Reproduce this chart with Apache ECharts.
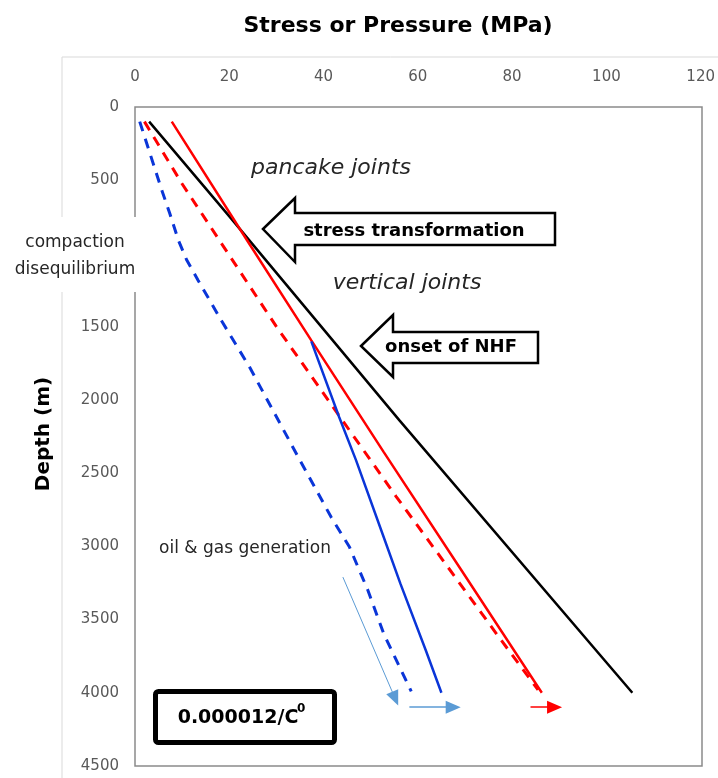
<!DOCTYPE html>
<html><head><meta charset="utf-8">
<script src="https://cdn.jsdelivr.net/npm/echarts@6/dist/echarts.min.js"></script>
<style>html,body{margin:0;padding:0;background:#fff}#c{width:718px;height:778px}</style>
</head><body><div id="c"></div>
<script>
// ---- data (stress/pressure in MPa, depth in m) ----
const xTickValues = [0, 20, 40, 60, 80, 100, 120];
const yTickValues = [0, 500, 1000, 1500, 2000, 2500, 3000, 3500, 4000, 4500];
const blackSolid = [[3,100],[20.1,750],[56.1,2140],[105.5,4000]];
const redSolid = [[7.8,100],[24,922],[37.4,1594],[52.7,2353],[69,3151],[86.3,4000]];
const redDashed = [[2,100],[9.9,520],[30,1500],[55.4,2660],[65.2,3090],[77.2,3620],[85.5,3980]];
const blueDashed = [[1,100],[5.6,560],[7.4,729],[9.2,910],[11,1047],[13.4,1184],[18.3,1457],[24.3,1776],[35,2413],[41.6,2800],[45.5,3005],[49.4,3300],[52.8,3600],[58.6,3990]];
const blueSolid = [[37.4,1600],[43.3,2117],[46.9,2413],[52.5,2914],[56.3,3255],[61.7,3711],[65,4000]];
const oilGasArrow = [[44.1,3210],[55.2,4040]];
const blueArrow = [[58.2,4098],[67.5,4098]];
const redArrow = [[83.9,4098],[89,4098]];

const FONT = "'DejaVu Sans', sans-serif";
const chart = echarts.init(document.getElementById('c'), null, {renderer: 'canvas'});

function arrowLine(pts, color, width) {
  return [{coord: pts[0], lineStyle: {color: color, width: width, type: 'solid'}}, {coord: pts[1]}];
}

const G = {left: 135, right: 16, top: 107, bottom: 12};
const option = {
  animation: false,
  backgroundColor: '#fff',
  grid: {left: G.left, right: G.right, top: G.top, bottom: G.bottom, show: false},
  xAxis: {
    type: 'value', position: 'top', min: xTickValues[0], max: xTickValues[xTickValues.length-1], interval: 20,
    axisLine: {show: false}, axisTick: {show: false}, splitLine: {show: false},
    axisLabel: {fontSize: 15, color: '#595959', margin: 22, fontFamily: FONT}
  },
  yAxis: {
    type: 'value', inverse: true, min: yTickValues[0], max: yTickValues[yTickValues.length-1], interval: 500,
    axisLine: {show: false}, axisTick: {show: false}, splitLine: {show: false},
    axisLabel: {fontSize: 15, color: '#595959', margin: 16, fontFamily: FONT, formatter: v => String(v)}
  },
  series: [
    {type: 'line', data: blackSolid, showSymbol: false, lineStyle: {color: '#000', width: 2.5}, z: 3},
    {type: 'line', data: redSolid, showSymbol: false, lineStyle: {color: '#ff0000', width: 2.5}, z: 4},
    {type: 'line', data: redDashed, showSymbol: false, lineStyle: {color: '#ff0000', width: 3, type: [10, 8]}, z: 3},
    {type: 'line', data: blueDashed, showSymbol: false, lineStyle: {color: '#0a35d8', width: 3, type: [10, 8]}, z: 3},
    {type: 'line', data: blueSolid, showSymbol: false, lineStyle: {color: '#0a35d8', width: 2.5}, z: 5,
      markLine: {
        silent: true, symbol: ['none', 'triangle'], symbolSize: [13, 15], label: {show: false},
        animation: false,
        data: [
          arrowLine(oilGasArrow, '#5b9bd5', 1),
          arrowLine(blueArrow, '#5b9bd5', 1.5),
          arrowLine(redArrow, '#ff0000', 1.5)
        ],
        itemStyle: {color: '#5b9bd5'}
      }
    }
  ],
  graphic: [
    {type: 'rect', shape: {x: 62, y: 57, width: 700, height: 760}, style: {fill: 'none', stroke: '#d9d9d9', lineWidth: 1}, z: -1, silent: true},
    {type: 'rect', shape: {x: 135, y: 107, width: 567, height: 659}, style: {fill: 'none', stroke: '#8a8a8a', lineWidth: 1.5}, z: 1, silent: true},
    {type: 'text', x: 398, y: 26, style: {text: 'Stress or Pressure (MPa)', font: "bold 22px " + FONT, fill: '#000', textAlign: 'center', textVerticalAlign: 'middle'}},
    {type: 'text', x: 44, y: 434, rotation: Math.PI/2, style: {text: 'Depth (m)', font: "bold 20px " + FONT, fill: '#000', textAlign: 'center', textVerticalAlign: 'middle'}},
    // compaction text box (covers axis)
    {type: 'rect', shape: {x: 6, y: 217, width: 140, height: 75}, style: {fill: '#fff', stroke: 'none'}, z: 100},
    {type: 'text', x: 75, y: 243, z: 101, style: {text: 'compaction', font: "17px " + FONT, fill: '#262626', textAlign: 'center', textVerticalAlign: 'middle'}},
    {type: 'text', x: 75, y: 270, z: 101, style: {text: 'disequilibrium', font: "17px " + FONT, fill: '#262626', textAlign: 'center', textVerticalAlign: 'middle'}},
    {type: 'text', x: 331, y: 168, z: 101, style: {text: 'pancake joints', font: "italic 22px " + FONT, fill: '#262626', textAlign: 'center', textVerticalAlign: 'middle'}},
    {type: 'text', x: 407, y: 283, z: 101, style: {text: 'vertical joints', font: "italic 22px " + FONT, fill: '#262626', textAlign: 'center', textVerticalAlign: 'middle'}},
    {type: 'text', x: 245, y: 549, z: 101, style: {text: 'oil & gas generation', font: "17px " + FONT, fill: '#262626', textAlign: 'center', textVerticalAlign: 'middle'}},
    // stress transformation arrow
    {type: 'polygon', z: 101, shape: {points: [[263,229],[295,198],[295,213],[555,213],[555,245],[295,245],[295,262]]}, style: {fill: '#fff', stroke: '#000', lineWidth: 2.5}},
    {type: 'text', x: 414, y: 231, z: 102, style: {text: 'stress transformation', font: "bold 18px " + FONT, fill: '#000', textAlign: 'center', textVerticalAlign: 'middle'}},
    // onset of NHF arrow
    {type: 'polygon', z: 101, shape: {points: [[361,346],[393,315],[393,332],[538,332],[538,363],[393,363],[393,377]]}, style: {fill: '#fff', stroke: '#000', lineWidth: 2.5}},
    {type: 'text', x: 451, y: 347, z: 102, style: {text: 'onset of NHF', font: "bold 18px " + FONT, fill: '#000', textAlign: 'center', textVerticalAlign: 'middle'}},
    // coefficient box
    {type: 'rect', z: 101, shape: {x: 155.5, y: 691.5, width: 179, height: 51, r: 3}, style: {fill: '#fff', stroke: '#000', lineWidth: 5}},
    {type: 'text', x: 238, y: 718, z: 102, style: {text: '0.000012/C', font: "bold 19px " + FONT, fill: '#000', textAlign: 'center', textVerticalAlign: 'middle'}},
    {type: 'text', x: 297, y: 709, z: 102, style: {text: '0', font: "bold 12px " + FONT, fill: '#000', textAlign: 'left', textVerticalAlign: 'middle'}}
  ]
};
chart.setOption(option);
</script></body></html>
